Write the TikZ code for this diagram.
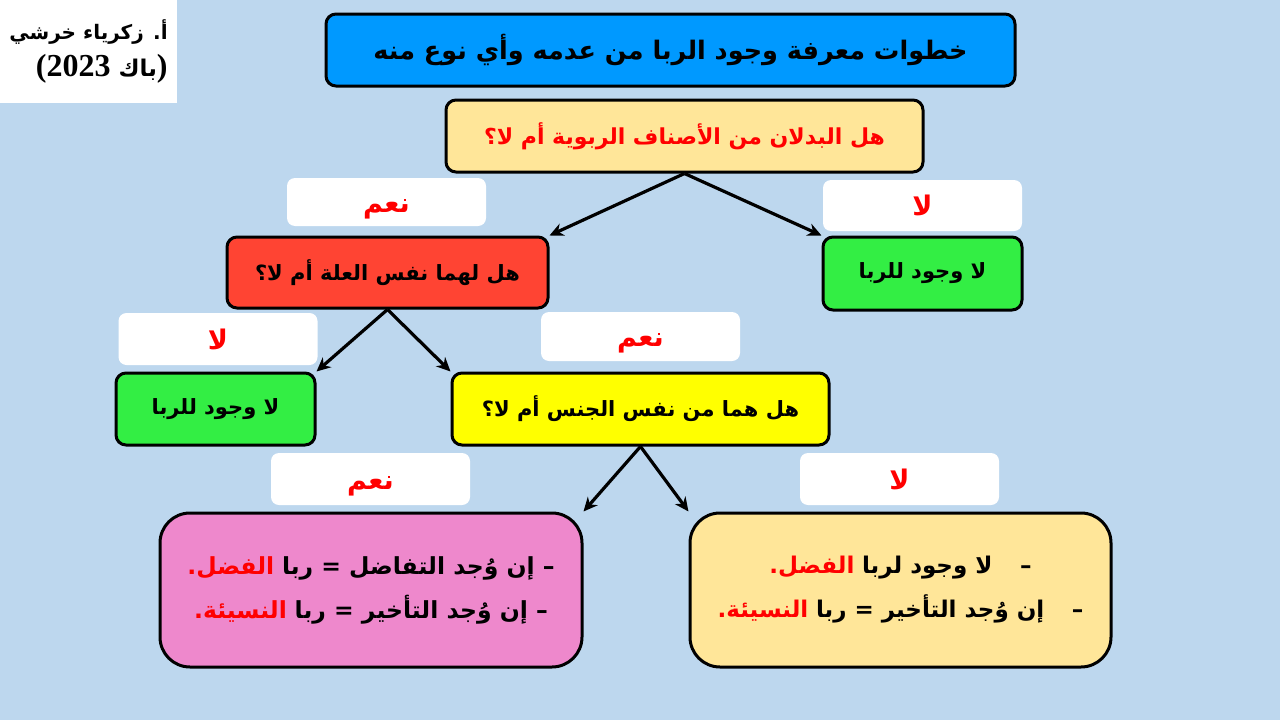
\documentclass[tikz,border=0pt]{standalone}
\usepackage{fontspec}
\setmainfont{Liberation Serif}
\newfontfamily\arabicfont[Script=Arabic]{DejaVu Sans}
\TeXXeTstate=1
\usetikzlibrary{arrows.meta}

\definecolor{bgblue}{HTML}{BDD7EE}
\definecolor{titleblue}{HTML}{0099FF}
\definecolor{lightgold}{HTML}{FFE699}
\definecolor{askred}{HTML}{FF4433}
\definecolor{okgreen}{HTML}{33EE44}
\definecolor{askyellow}{HTML}{FFFF00}
\definecolor{rosepink}{HTML}{EE88CC}

\newcommand{\artext}[1]{{\arabicfont\bfseries\beginR #1\endR}}
% red word kept out of the R-text, placed at its left end
\newcommand{\redword}[1]{{\color{red}\arabicfont\bfseries #1}}

\begin{document}
\begin{tikzpicture}[x=1pt, y=-1pt,
    box/.style={draw=black, line width=3pt, rounded corners=10pt, inner sep=0pt},
    tag/.style={fill=white, rounded corners=8pt, minimum width=199pt, inner sep=0pt, text=red, text height=20pt, text depth=0pt, font=\fontsize{27}{30}\selectfont},
    arr/.style={-{Stealth[length=14pt, width=13pt]}, line width=3.2pt}]
    \useasboundingbox (0,0) rectangle (1280,720);
    \fill[bgblue] (0,0) rectangle (1280,720);

    \node[fill=white, minimum width=177pt, minimum height=103pt, inner sep=0pt, align=right, font=\fontsize{20}{37}\selectfont\bfseries] (author) at (88.5,51.5)
        {\artext{أ. زكرياء خرشي}\\{\fontsize{32}{37}\selectfont(2023 {\arabicfont\fontsize{23}{37}\selectfont\beginR باك\endR})}};

    \node[box, fill=titleblue, minimum width=689pt, minimum height=72pt, font=\fontsize{25.5}{30}\selectfont] (title) at (670.5,50)
        {\artext{خطوات معرفة وجود الربا من عدمه وأي نوع منه}};
    \node[box, fill=lightgold, text=red, minimum width=477pt, minimum height=72pt, font=\fontsize{22}{26}\selectfont] (q1) at (684.5,136)
        {\artext{هل البدلان من الأصناف الربوية أم لا؟}};

    \node[tag, minimum height=48pt] (yes1) at (386.5,202) {\artext{نعم}};
    \node[tag, minimum height=51pt] (no1) at (922.5,205.5) {\artext{لا}};

    \node[box, fill=askred, minimum width=321pt, minimum height=71pt, font=\fontsize{21}{26}\selectfont] (q2) at (387.5,272.5)
        {\artext{هل لهما نفس العلة أم لا؟}};
    \node[box, fill=okgreen, minimum width=199pt, minimum height=73pt, font=\fontsize{21}{26}\selectfont] (none1) at (922.5,273.5)
        {\artext{لا وجود للربا}};

    \node[tag, minimum height=52pt] (no2) at (218,339) {\artext{لا}};
    \node[tag, minimum height=49pt] (yes2) at (640.5,336.5) {\artext{نعم}};

    \node[box, fill=okgreen, minimum width=199pt, minimum height=72pt, font=\fontsize{21}{26}\selectfont] (none2) at (215.5,409)
        {\artext{لا وجود للربا}};
    \node[box, fill=askyellow, minimum width=377pt, minimum height=72pt, font=\fontsize{21}{26}\selectfont] (q3) at (640.5,409)
        {\artext{هل هما من نفس الجنس أم لا؟}};

    \node[tag, minimum height=52pt] (yes3) at (370.5,479) {\artext{نعم}};
    \node[tag, minimum height=52pt] (no3) at (899.5,479) {\artext{لا}};

    \node[box, rounded corners=30pt, fill=rosepink, minimum width=422pt, minimum height=154pt, align=center, font=\fontsize{23.5}{44}\selectfont] (fadl) at (371,590)
        {\redword{الفضل.} \artext{– إن وُجد التفاضل = ربا}\\
         \redword{النسيئة.} \artext{– إن وُجد التأخير = ربا}};
    \node[box, rounded corners=30pt, fill=lightgold, minimum width=421pt, minimum height=154pt, align=center, font=\fontsize{23}{44}\selectfont] (nasia) at (900.5,590)
        {\redword{الفضل.} \artext{–\hspace{1.2em}لا وجود لربا}\\
         \redword{النسيئة.} \artext{–\hspace{1.2em}إن وُجد التأخير = ربا}};

    \draw[arr] (q1.south) -- (q2.north east);
    \draw[arr] (q1.south) -- (none1.north west);
    \draw[arr] (q2.south) -- (none2.north east);
    \draw[arr] (q2.south) -- (q3.north west);
    \draw[arr] (q3.south) -- (fadl.north east);
    \draw[arr] (q3.south) -- (nasia.north west);
\end{tikzpicture}
\end{document}
